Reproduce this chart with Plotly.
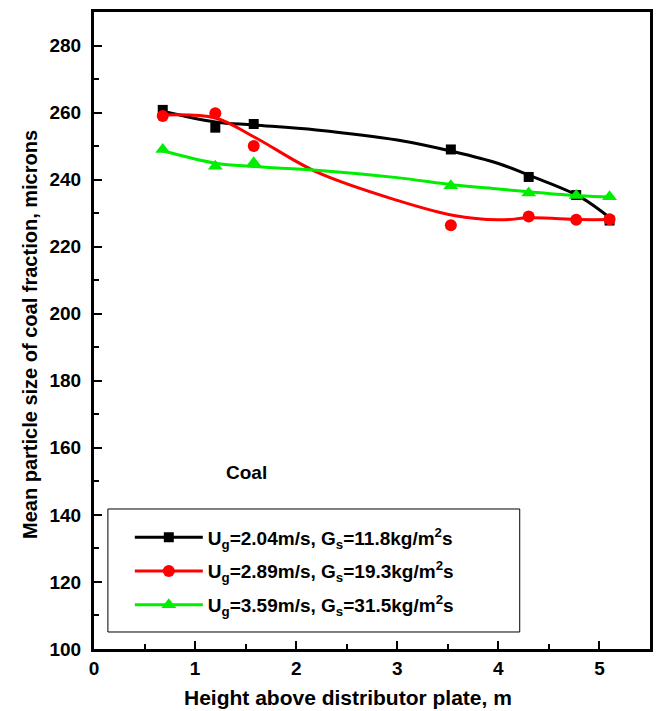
import plotly.graph_objects as go

# ---- data ----
height_m = [0.68, 1.2, 1.58, 3.53, 4.3, 4.77, 5.1]
size_s1 = [260.8, 255.5, 256.6, 249.0, 240.8, 235.4, 227.8]
size_s2 = [259.0, 259.8, 250.0, 226.4, 229.0, 228.0, 228.2]
size_s3 = [249.0, 244.0, 245.0, 238.2, 236.0, 235.3, 234.9]

# smooth fitted curves
fit_x = [0.68, 1.2, 1.58, 2.2, 3.0, 3.56, 4.0, 4.33, 4.8, 5.12]
fit_s1 = [260.4, 257.2, 256.3, 254.8, 251.8, 248.3, 244.8, 241.0, 235.0, 228.2]
fit_s2 = [259.3, 258.4, 252.8, 242.3, 233.8, 229.3, 228.0, 228.6, 228.1, 228.1]
fit_s3 = [248.6, 244.9, 243.9, 242.8, 240.6, 238.4, 237.2, 236.3, 235.2, 234.8]

names = [
    "U<sub>g</sub>=2.04m/s, G<sub>s</sub>=11.8kg/m<sup>2</sup>s",
    "U<sub>g</sub>=2.89m/s, G<sub>s</sub>=19.3kg/m<sup>2</sup>s",
    "U<sub>g</sub>=3.59m/s, G<sub>s</sub>=31.5kg/m<sup>2</sup>s",
]
colors = ["#000000", "#ff0000", "#00ee00"]
symbols = ["square", "circle", "triangle-up"]
msizes = [10, 12, 13]

series = [size_s1, size_s2, size_s3]
fits = [fit_s1, fit_s2, fit_s3]

FONT = "Liberation Sans"

fig = go.Figure()
for i in range(3):
    fig.add_trace(go.Scatter(
        x=fit_x, y=fits[i], mode="lines", line=dict(color=colors[i], width=3, shape="spline", smoothing=1.0),
        showlegend=False, hoverinfo="skip"))
    fig.add_trace(go.Scatter(
        x=height_m, y=series[i], mode="markers",
        marker=dict(symbol=symbols[i], size=msizes[i], color=colors[i]),
        showlegend=False))
    # legend entry
    fig.add_trace(go.Scatter(
        x=[None], y=[None], mode="lines+markers", name=names[i], legendgroup=f"g{i}",
        line=dict(color=colors[i], width=3),
        marker=dict(symbol=symbols[i], size=msizes[i], color=colors[i])))

fig.add_annotation(x=1.29, y=152.5, text="Coal", showarrow=False, xanchor="left", yanchor="middle",
                   font=dict(family=FONT, size=19, color="black", weight="bold"))

# axis titles (placed as in the reference)
fig.add_annotation(xref="paper", yref="paper", x=0.456, y=0, yshift=-48, xanchor="center", yanchor="middle",
                   text="Height above distributor plate, m", showarrow=False,
                   font=dict(family=FONT, size=21, color="black", weight="bold"))
fig.add_annotation(xref="paper", yref="paper", x=0, xshift=-64, y=0.493, xanchor="center", yanchor="middle",
                   text="Mean particle size of coal fraction, microns", textangle=-90, showarrow=False,
                   font=dict(family=FONT, size=20, color="black", weight="bold"))

# legend frame
fig.add_shape(type="rect", xref="paper", yref="paper", x0=0.025, x1=0.7657, y0=0.0267, y1=0.2198,
              line=dict(color="black", width=1), fillcolor="rgba(0,0,0,0)", layer="above")

axis_common = dict(
    showline=True, linecolor="black", linewidth=3, mirror=True,
    ticks="inside", ticklen=8, tickwidth=2, tickcolor="black",
    showgrid=False, zeroline=False,
    tickfont=dict(family=FONT, size=19, color="black", weight="bold"),
)

fig.update_xaxes(range=[0, 5.5], dtick=1, tick0=0,
                 minor=dict(ticks="inside", ticklen=5, tickwidth=2, dtick=0.5, tickcolor="black", showgrid=False),
                 **axis_common)
fig.update_yaxes(range=[100, 290], dtick=20, tick0=100, ticklabelstandoff=6,
                 minor=dict(ticks="inside", ticklen=5, tickwidth=2, dtick=10, tickcolor="black", showgrid=False),
                 **axis_common)

fig.update_layout(
    width=657, height=711,
    margin=dict(l=94, r=4, t=12, b=62),
    plot_bgcolor="white", paper_bgcolor="white",
    legend=dict(x=0.0644, y=0.205, xanchor="left", yanchor="top",
                borderwidth=0, bgcolor="rgba(0,0,0,0)",
                font=dict(family=FONT, size=19, color="black", weight="bold"),
                itemwidth=68, tracegroupgap=6),
)

fig.write_html("out.html")
